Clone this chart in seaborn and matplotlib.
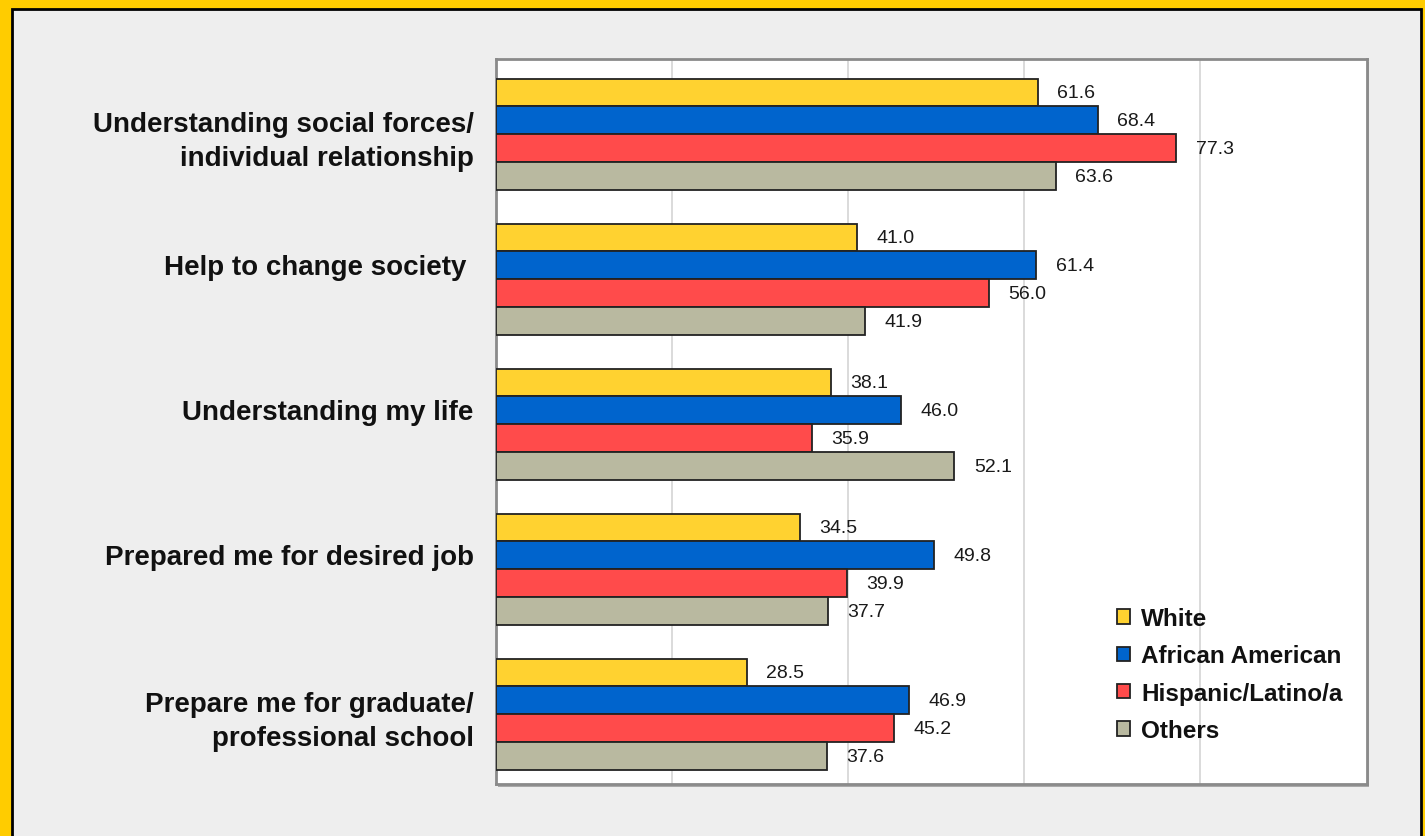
import pandas as pd
import matplotlib.pyplot as plt
import matplotlib.transforms as mtransforms
import seaborn as sns
from matplotlib.patches import Rectangle

# Chart values
categories = [
    'Understanding social forces/\nindividual relationship',
    'Help to change society ',
    'Understanding my life',
    'Prepared me for desired job',
    'Prepare me for graduate/\nprofessional school',
]
groups = ['White', 'African American', 'Hispanic/Latino/a', 'Others']
white = [61.6, 41.0, 38.1, 34.5, 28.5]
african_american = [68.4, 61.4, 46.0, 49.8, 46.9]
hispanic_latino = [77.3, 56.0, 35.9, 39.9, 45.2]
others = [63.6, 41.9, 52.1, 37.7, 37.6]
colors = ['#FFD230', '#0064CD', '#FF4B4B', '#B9B9A0']

# Long format for seaborn
series = [white, african_american, hispanic_latino, others]
rows = []
for g, vals in zip(groups, series):
    for c, v in zip(categories, vals):
        rows.append({'category': c, 'group': g, 'value': v})
df = pd.DataFrame(rows)

sns.set_style('white')
plt.rcParams['font.family'] = ['Liberation Sans', 'DejaVu Sans']

fig = plt.figure(figsize=(14.25, 8.37), dpi=100, facecolor='#FFCC00')
# grey panel with thin black outline inside the yellow frame
fig.patches.append(Rectangle((12 / 1425, -0.02), (1421 - 12) / 1425, 1.02 - 10 / 837,
                             transform=fig.transFigure, facecolor='#EEEEEE',
                             edgecolor='black', linewidth=2, zorder=-5))
# soft shadow behind the plot frame
fig.patches.append(Rectangle((498 / 1425, 1 - 788 / 837), 871 / 1425, 725 / 837,
                             transform=fig.transFigure, facecolor='#A8A8A8',
                             edgecolor='none', zorder=-4))

ax = fig.add_axes([496 / 1425, 1 - 785 / 837, 871 / 1425, 725 / 837])
ax.set_facecolor('white')

sns.barplot(data=df, y='category', x='value', hue='group', orient='h',
            palette=colors, width=0.77, edgecolor='#222222', linewidth=1.3,
            saturation=1, ax=ax, zorder=3)

for cont in ax.containers:
    ax.bar_label(cont, fmt='%.1f', padding=14, fontsize=14, color='#1a1a1a')

ax.set_xlim(0, 99)
ax.set_ylim(4.48, -0.52)
ax.set_xticks([20, 40, 60, 80])
ax.set_xticklabels([])
ax.tick_params(axis='both', length=0)
ax.tick_params(axis='y', pad=16)
ax.grid(axis='x', color='#D4D4D4', linewidth=1.2, zorder=0)
ax.set_axisbelow(True)
ax.set_xlabel('')
ax.set_ylabel('')

# single-line category labels sit a little above the group centre
shift = mtransforms.ScaledTranslation(0, 11 / 72, fig.dpi_scale_trans)
for lab in ax.get_yticklabels():
    lab.set_fontweight('bold')
    lab.set_fontsize(20)
    lab.set_color('#111111')
    lab.set_multialignment('right')
    lab.set_linespacing(1.37)
    if '\n' not in lab.get_text():
        lab.set_transform(lab.get_transform() + shift)

for s in ax.spines.values():
    s.set_color('#8A8A8A')
    s.set_linewidth(2)

leg = ax.legend(loc='upper left', bbox_to_anchor=(0.688, 0.274), frameon=False,
                handlelength=0.55, handleheight=0.55, handletextpad=0.45,
                labelspacing=0.585, prop={'weight': 'bold', 'size': 17.5})
for t in leg.get_texts():
    t.set_color('#111111')

fig.savefig('out.png', dpi=100, facecolor=fig.get_facecolor())
